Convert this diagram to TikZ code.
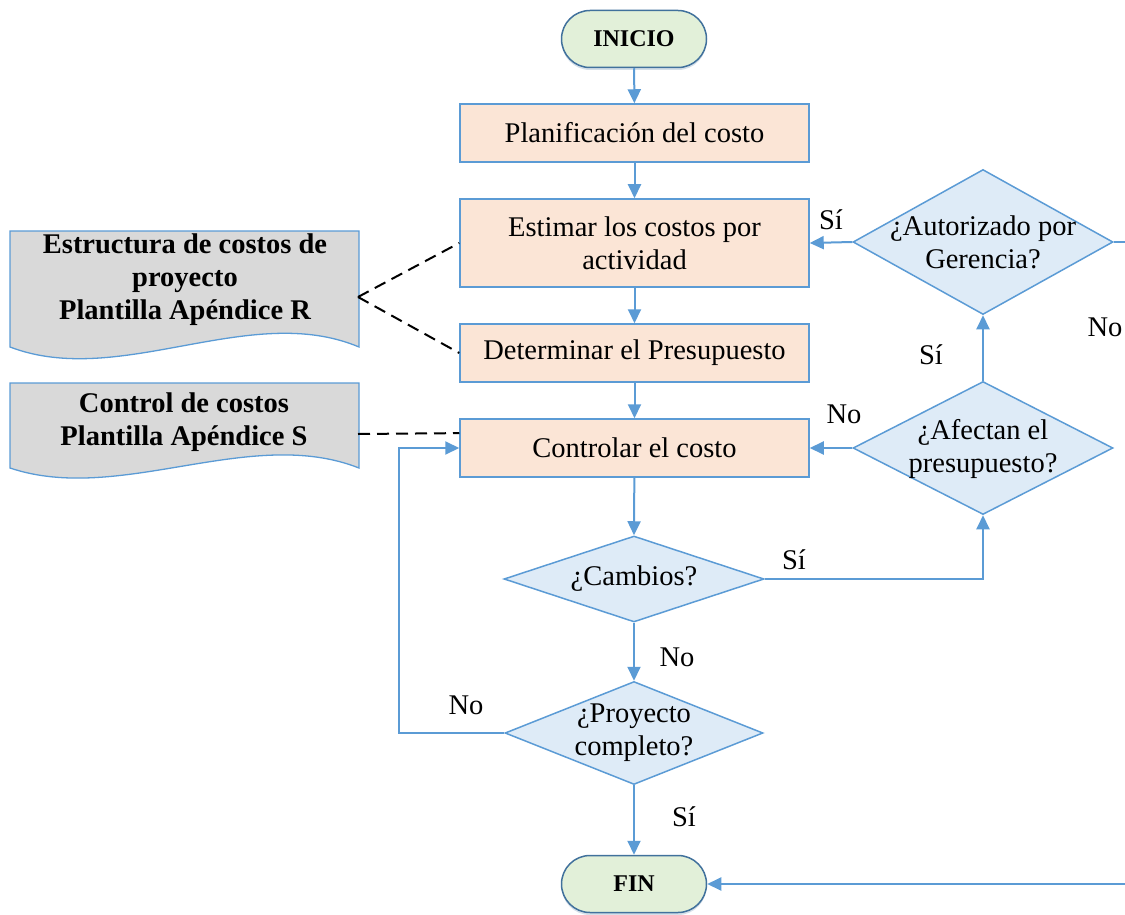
\documentclass[tikz,border=0pt]{standalone}
\usepackage{fontspec}
\setmainfont{Liberation Serif}
\usetikzlibrary{arrows.meta,shapes.geometric,shadows,calc}

\definecolor{linkblue}{HTML}{5B9BD5}
\definecolor{edgeblue}{HTML}{41719C}
\definecolor{procfill}{HTML}{FBE5D6}
\definecolor{decfill}{HTML}{DEEBF7}
\definecolor{termfill}{HTML}{E2F0D9}
\definecolor{docfill}{HTML}{D9D9D9}
\newcommand{\txtsize}{\fontsize{28.5}{33}\selectfont}

\begin{document}
\begin{tikzpicture}[x=1pt,y=-1pt,
  proc/.style={draw=linkblue, line width=1.5pt, fill=procfill, minimum width=349pt,
    minimum height=58pt, inner sep=0pt, align=center, font=\txtsize},
  dec/.style={diamond, draw=linkblue, line width=1.5pt, fill=decfill, inner sep=0pt},
  term/.style={draw=edgeblue, line width=1.5pt, fill=termfill, rounded corners=28.5pt,
    minimum width=145pt, minimum height=57pt, inner sep=0pt,
    font=\fontsize{24}{28}\selectfont\bfseries,
    drop shadow={shadow xshift=0pt, shadow yshift=-2.5pt, opacity=0.22, fill=edgeblue}},
  flow/.style={draw=linkblue, line width=2pt, -{Triangle[length=14pt,width=13pt]}},
  lbl/.style={font=\txtsize, inner sep=0pt},
  dtext/.style={font=\txtsize, align=center, inner sep=0pt},
  doctext/.style={font=\txtsize\bfseries, align=center, inner sep=0pt},
  docshape/.style={draw=linkblue, line width=1.3pt, fill=docfill},
  assoc/.style={draw=black, line width=2pt, dash pattern=on 12pt off 7pt}
]
\useasboundingbox (0,0) rectangle (1125,915);
\clip (0,0) rectangle (1125,915);

% main column
\node[term] (inicio) at (634,39) {INICIO};
\node[proc] (plan) at (634.5,133) {Planificación del costo};
\node[proc, minimum height=88pt] (estim) at (634.5,243) {Estimar los costos por\\actividad};
\node[proc] (deter) at (634.5,353) {Determinar el Presupuesto};
\node[proc] (ctrl) at (634.5,448) {Controlar el costo};
\node[dec, minimum width=260pt, minimum height=86pt] (camb) at (634,579) {};
\node[dtext] at (634,579) {¿Cambios?};
\node[dec, minimum width=258pt, minimum height=103pt] (proy) at (634,733) {};
\node[dtext] at (634,733) {¿Proyecto\\completo?};
\node[term] (fin) at (634,884) {FIN};

% decisions on the right
\node[dec, minimum width=260pt, minimum height=133pt] (afec) at (983,448) {};
\node[dtext] at (983,449) {¿Afectan el\\presupuesto?};
\node[dec, minimum width=260pt, minimum height=145pt] (autor) at (983,242) {};
\node[dtext] at (983,242) {¿Autorizado por\\Gerencia?};

% templates (document shapes)
\path[docshape] (10,231) -- (359,231) -- (359,347)
  .. controls (250,301) and (120,389) .. (10,347) -- cycle;
\node[doctext] (docR) at (185,280) {Estructura de costos de\\proyecto\\Plantilla Apéndice R};
\coordinate (docRtip) at (358,297);
\path[docshape] (10,383) -- (359,383) -- (359,468)
  .. controls (250,425) and (120,505) .. (10,468) -- cycle;
\node[doctext] (docS) at (184,422) {Control de costos\\Plantilla Apéndice S};
\coordinate (docStip) at (358,434);

% associations
\draw[assoc] (docRtip) -- (estim.west);
\draw[assoc] (docRtip) -- (deter.west);
\draw[assoc] (docStip) -- ($(ctrl.north west)!0.25!(ctrl.south west)$);

% flow
\draw[flow] (inicio) -- (plan);
\draw[flow] (plan) -- (estim);
\draw[flow] (estim) -- (deter);
\draw[flow] (deter) -- (ctrl);
\draw[flow] (ctrl) -- (camb.north);
\draw[flow] (camb.south) -- (proy.north);
\draw[flow] (proy.south) -- (fin.north);
\draw[flow] (camb.east) -| (afec.south);
\draw[flow] (afec.west) -- (ctrl.east);
\draw[flow] (afec.north) -- (autor.south);
\draw[flow] (autor.west) -- (estim.east);
\coordinate (outright) at (1145,242);
\draw[flow] (autor.east) -- (outright) |- (fin.east);
\coordinate (loopleft) at (399,733);
\draw[flow] (proy.west) -- (loopleft) |- (ctrl.west);

% branch labels
\node[lbl] at (831,220) {Sí};
\node[lbl] at (1105,327) {No};
\node[lbl] at (931,355) {Sí};
\node[lbl] at (844,414) {No};
\node[lbl] at (794,560) {Sí};
\node[lbl] at (677,657) {No};
\node[lbl] at (466,705) {No};
\node[lbl] at (684,817) {Sí};
\end{tikzpicture}
\end{document}
